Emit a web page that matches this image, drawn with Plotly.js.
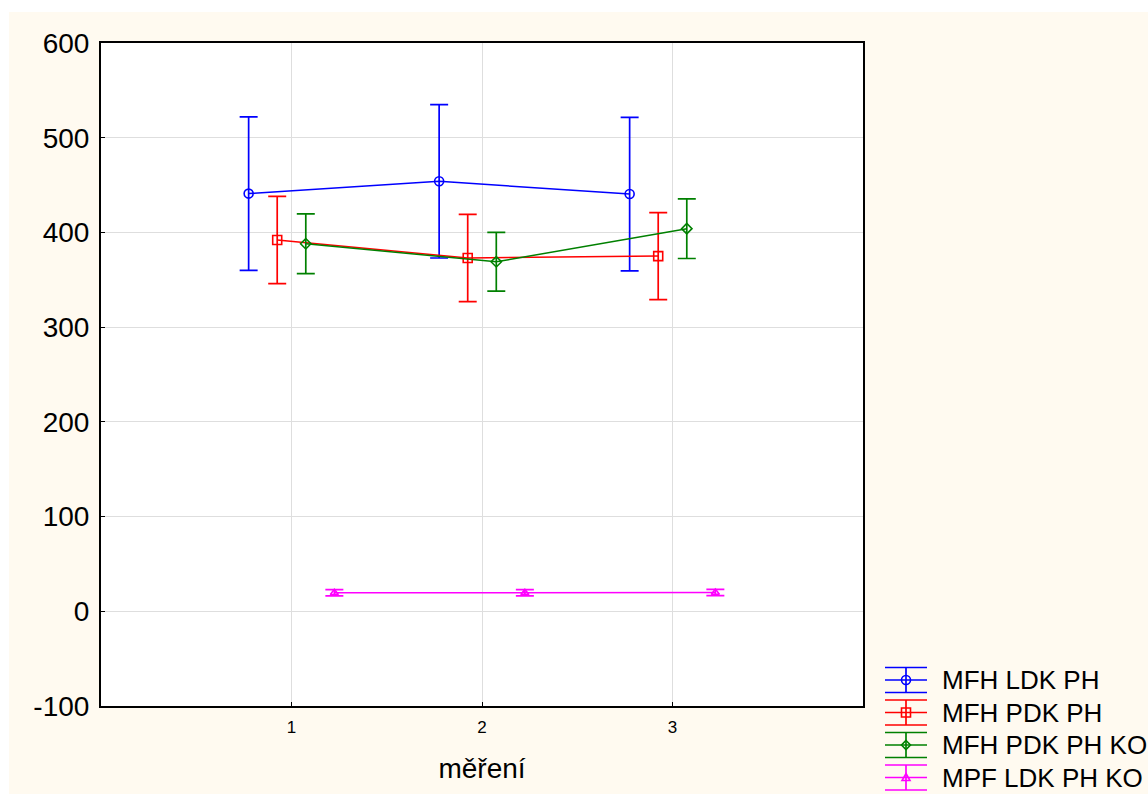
<!DOCTYPE html>
<html>
<head>
<meta charset="utf-8">
<script src="https://cdn.plot.ly/plotly-3.0.1.min.js"></script>
<style>
html,body{margin:0;padding:0;background:#ffffff;overflow:hidden;width:1148px;height:794px;}
#chart{position:absolute;left:9px;top:12px;width:1141px;height:788px;}
</style>
</head>
<body>
<div id="chart"></div>
<script>
// Data
const categories = [1, 2, 3];
const seriesNames = ["MFH LDK PH", "MFH PDK PH", "MFH PDK PH KO", "MPF LDK PH KO"];
const mfhLdkPh     = [441, 454, 440.5];
const mfhLdkPhErr  = [81, 81, 81];
const mfhPdkPh     = [392, 373, 375];
const mfhPdkPhErr  = [46, 46, 46];
const mfhPdkPhKo   = [388, 369, 404];
const mfhPdkPhKoErr= [31.5, 31, 31.5];
const mpfLdkPhKo   = [19.6, 19.6, 19.8];
const mpfLdkPhKoErr= [3.3, 3.3, 3.3];
const xTickLabels = ["1", "2", "3"];
const yTickValues = [-100, 0, 100, 200, 300, 400, 500, 600];
const yTickLabels = ["-100", "0", "100", "200", "300", "400", "500", "600"];

const values = [mfhLdkPh, mfhPdkPh, mfhPdkPhKo, mpfLdkPhKo];
const errors = [mfhLdkPhErr, mfhPdkPhErr, mfhPdkPhKoErr, mpfLdkPhKoErr];
const colors = ["#0000ff", "#ff0000", "#008000", "#ff00ff"];
const symbols = ["circle-open", "square-open", "diamond-open", "triangle-up-open"];
const sizes = [9, 9, 8, 7];
const offsets = [-0.225, -0.075, 0.075, 0.225];

const traces = values.map((v, i) => ({
  type: "scatter",
  mode: "lines+markers",
  name: seriesNames[i],
  x: categories.map(c => c + offsets[i]),
  y: v,
  line: {color: colors[i], width: 1.5},
  marker: {symbol: symbols[i], size: sizes[i], color: colors[i], line: {color: colors[i], width: 1.6}},
  error_y: {type: "data", array: errors[i], visible: true, color: colors[i], thickness: 1.7, width: 9}
}));

// ---- Legend key (drawn as layout decoration, in page-pixel positions) ----
const PLOT_L = 101, PLOT_R = 863, PLOT_T = 43, PLOT_B = 706;
const px2x = px => (px - PLOT_L) / (PLOT_R - PLOT_L);
const px2y = py => (PLOT_B - py) / (PLOT_B - PLOT_T);
const legendRowsY = [680, 712.5, 745, 777.5];
const keyCx = 906, keyHalfW = 21, keyHalfH = 12.5, legendTextX = 940;

const shapes = [];
const annotations = [];
seriesNames.forEach((name, i) => {
  const col = colors[i];
  const base = {xref: "paper", yref: "paper", xsizemode: "pixel", ysizemode: "pixel",
                xanchor: px2x(keyCx), yanchor: px2y(legendRowsY[i]), layer: "above"};
  const ln = {color: col, width: 1.7};
  shapes.push(Object.assign({type: "line", x0: -keyHalfW, x1: keyHalfW, y0: 0, y1: 0, line: ln}, base));
  shapes.push(Object.assign({type: "line", x0: 0, x1: 0, y0: -keyHalfH, y1: keyHalfH, line: ln}, base));
  shapes.push(Object.assign({type: "line", x0: -keyHalfW, x1: keyHalfW, y0: keyHalfH, y1: keyHalfH, line: ln}, base));
  shapes.push(Object.assign({type: "line", x0: -keyHalfW, x1: keyHalfW, y0: -keyHalfH, y1: -keyHalfH, line: ln}, base));
  let mk;
  if (i === 0) mk = {type: "circle", x0: -4.5, x1: 4.5, y0: -4.5, y1: 4.5};
  else if (i === 1) mk = {type: "rect", x0: -4.5, x1: 4.5, y0: -4.5, y1: 4.5};
  else if (i === 2) mk = {type: "path", path: "M0,4.5L4.5,0L0,-4.5L-4.5,0Z"};
  else mk = {type: "path", path: "M0,4L4,-3L-4,-3Z"};
  shapes.push(Object.assign(mk, base, {line: {color: col, width: 1.6}, fillcolor: "rgba(0,0,0,0)"}));
  annotations.push({
    xref: "paper", yref: "paper", x: px2x(legendTextX), y: px2y(legendRowsY[i]),
    xanchor: "left", yanchor: "middle", showarrow: false, text: name,
    font: {family: "Liberation Sans, Arial, sans-serif", size: 26, color: "#000"}
  });
});

const FONT = "Liberation Sans, Arial, sans-serif";
const layout = {
  width: 1141, height: 788,
  paper_bgcolor: "#fffaf0",
  plot_bgcolor: "#ffffff",
  margin: {l: 92, r: 287, t: 31, b: 94},
  font: {family: FONT, color: "#000000"},
  showlegend: false,
  shapes: shapes,
  annotations: annotations,
  xaxis: {
    range: [0, 4],
    tickmode: "array", tickvals: categories, ticktext: xTickLabels,
    ticks: "inside", ticklen: 4, tickcolor: "#000", tickwidth: 1,
    tickfont: {family: FONT, size: 17, color: "#000"},
    ticklabelstandoff: 5,
    showgrid: true, gridcolor: "#dedede", gridwidth: 1,
    zeroline: false,
    showline: true, linecolor: "#000", linewidth: 2, mirror: true,
    title: {text: "měření", font: {family: FONT, size: 28, color: "#000"}, standoff: 22}
  },
  yaxis: {
    range: [-100, 600],
    tickmode: "array", tickvals: yTickValues, ticktext: yTickLabels,
    ticks: "inside", ticklen: 4, tickcolor: "#000", tickwidth: 1,
    tickfont: {family: FONT, size: 28, color: "#000"},
    ticklabelstandoff: 4,
    showgrid: true, gridcolor: "#dedede", gridwidth: 1,
    zeroline: false,
    showline: true, linecolor: "#000", linewidth: 2, mirror: true
  }
};

Plotly.newPlot("chart", traces, layout, {displayModeBar: false, staticPlot: true});
</script>
</body>
</html>
